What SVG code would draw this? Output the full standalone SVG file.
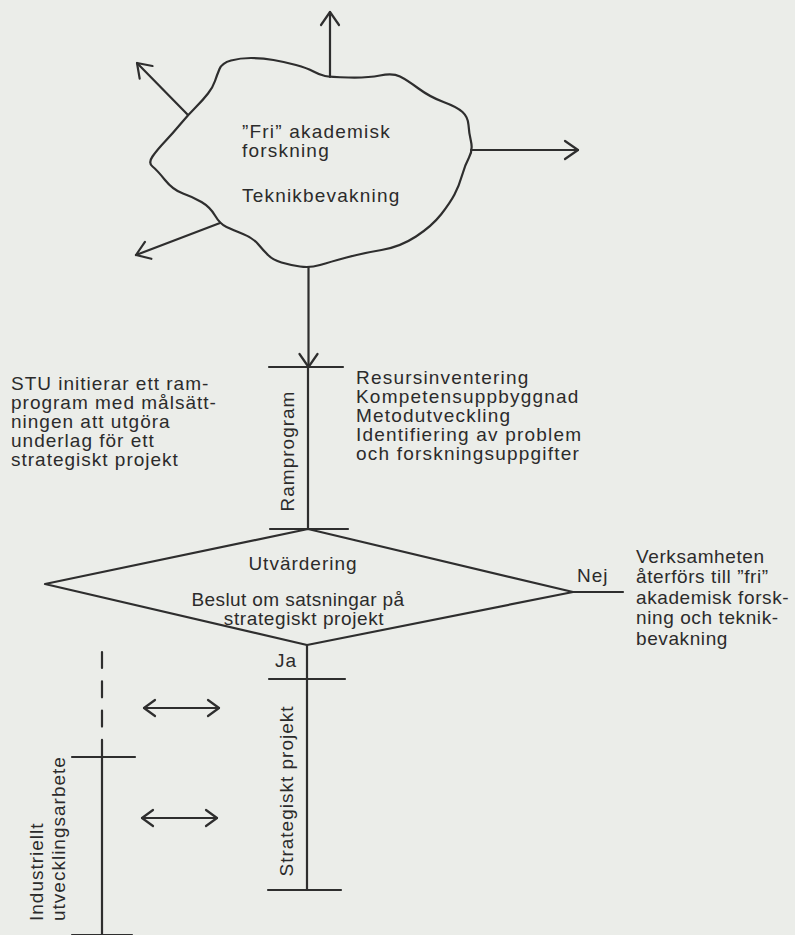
<svg xmlns="http://www.w3.org/2000/svg" width="795" height="935" viewBox="0 0 795 935">
  <defs>
    <style>
      .ln{fill:none;stroke:#2e2e2e;stroke-width:2.2;stroke-linecap:round;stroke-linejoin:round}
      .t{font-family:"Liberation Sans",Arial,Helvetica,sans-serif;font-size:19px;fill:#2b2b2b;letter-spacing:1px}
      .c{text-anchor:middle}
      .wide{letter-spacing:1.2px}
      .snug{letter-spacing:0.6px}
    </style>
    <marker id="arrow" viewBox="-16 -11 18 22" refX="0" refY="0" markerWidth="18" markerHeight="22" markerUnits="userSpaceOnUse" orient="auto">
      <path d="M-13,-9 L0,0 L-13,9" fill="none" stroke="#2e2e2e" stroke-width="2.2" stroke-linecap="round" stroke-linejoin="round"/>
    </marker>
    <marker id="arrow-both" viewBox="-14 -10 16 20" refX="0" refY="0" markerWidth="16" markerHeight="20" markerUnits="userSpaceOnUse" orient="auto-start-reverse">
      <path d="M-11,-8 L0,0 L-11,8" fill="none" stroke="#2e2e2e" stroke-width="2.2" stroke-linecap="round" stroke-linejoin="round"/>
    </marker>
  </defs>

  <!-- paper -->
  <rect x="0" y="0" width="795" height="935" fill="#ebede9"/>

  <!-- free academic research: cloud -->
  <g id="cloud">
    <path class="ln" d="M325,76 Q330,77 348.5,77.5 Q367,78 380,75.5 Q393,73 400,76.5 Q407,80 418.5,88.5 Q430,97 443.5,102 Q457,107 462.5,112 Q468,117 468.5,125 Q469,133 471,141.5 Q473,150 469,157.5 Q465,165 462,175.5 Q459,186 454.5,194.5 Q450,203 441,214.5 Q432,226 416,236.5 Q400,247 381.5,250 Q363,253 346.5,257.5 Q330,262 320,265 Q310,268 300,266.5 Q290,265 281.5,262.5 Q273,260 268,255 Q263,250 258,244 Q253,238 243,234 Q233,230 226.5,227 Q220,224 215,215.5 Q210,207 201.5,202 Q193,197 183,193.5 Q173,190 165,180 Q157,170 152.5,166.5 Q148,163 152.5,156.5 Q157,150 165,141.5 Q173,133 180.5,124 Q188,115 195.5,107.5 Q203,100 208,93.5 Q213,87 215,81 Q217,75 219.5,69 Q222,63 231,60.5 Q240,58 251,58 Q262,58 273.5,60 Q285,62 296,65 Q307,68 313.5,71.5 Q320,75 325,76 Z"/>
    <text class="t wide" x="242" y="138">”Fri” akademisk</text>
    <text class="t wide" x="242" y="157">forskning</text>
    <text class="t wide" x="242" y="202">Teknikbevakning</text>
  </g>

  <!-- STU initiative note -->
  <g id="stu-note">
    <text class="t" x="11" y="390">STU initierar ett ram-</text>
    <text class="t" x="11" y="409">program med målsätt-</text>
    <text class="t" x="11" y="428">ningen att utgöra</text>
    <text class="t" x="11" y="447">underlag för ett</text>
    <text class="t" x="11" y="466">strategiskt projekt</text>
  </g>

  <!-- framework programme phase -->
  <g id="ramprogram">
    <line class="ln" x1="269" y1="367" x2="343" y2="367"/>
    <line class="ln" x1="270" y1="529" x2="348" y2="529"/>
    <text class="t c" transform="translate(294,451) rotate(-90)">Ramprogram</text>
  </g>

  <!-- framework programme activities -->
  <g id="ramprogram-tasks">
    <text class="t wide" x="356" y="384">Resursinventering</text>
    <text class="t wide" x="356" y="403">Kompetensuppbyggnad</text>
    <text class="t wide" x="356" y="422">Metodutveckling</text>
    <text class="t wide" x="356" y="441">Identifiering av problem</text>
    <text class="t wide" x="356" y="460">och forskningsuppgifter</text>
  </g>

  <!-- evaluation / decision -->
  <g id="decision">
    <polygon class="ln" points="308,529 573,592 307,645 45,584"/>
    <text class="t c" x="303" y="570">Utvärdering</text>
    <text class="t c" x="298" y="606" style="letter-spacing:0.4px">Beslut om satsningar på</text>
    <text class="t c snug" x="304" y="625">strategiskt projekt</text>
  </g>

  <!-- outcome when rejected -->
  <g id="outcome-no">
    <text class="t snug" x="636" y="563">Verksamheten</text>
    <text class="t snug" x="636" y="583">återförs till ”fri”</text>
    <text class="t snug" x="636" y="604">akademisk forsk-</text>
    <text class="t snug" x="636" y="624">ning och teknik-</text>
    <text class="t snug" x="636" y="645">bevakning</text>
  </g>

  <!-- strategic project phase -->
  <g id="strategiskt-projekt">
    <line class="ln" x1="269" y1="679" x2="345" y2="679"/>
    <line class="ln" x1="268" y1="890" x2="341" y2="890"/>
    <text class="t c" transform="translate(293,791) rotate(-90)">Strategiskt projekt</text>
  </g>

  <!-- industrial development work -->
  <g id="industriellt">
    <line class="ln" x1="72" y1="757" x2="135" y2="757"/>
    <line class="ln" x1="72" y1="935" x2="132" y2="935"/>
    <text class="t" transform="translate(43,921) rotate(-90)">Industriellt</text>
    <text class="t" transform="translate(65,921) rotate(-90)">utvecklingsarbete</text>
  </g>

  <!-- connectors -->
  <g id="connectors">
    <line class="ln" x1="330" y1="77" x2="330" y2="12" marker-end="url(#arrow)"/>
    <line class="ln" x1="188" y1="115" x2="137" y2="63" marker-end="url(#arrow)"/>
    <line class="ln" x1="220" y1="223" x2="136" y2="255" marker-end="url(#arrow)"/>
    <line class="ln" x1="471" y1="150" x2="578" y2="150" marker-end="url(#arrow)"/>
    <line class="ln" x1="308.5" y1="267" x2="308.5" y2="367" marker-end="url(#arrow)"/>
    <line class="ln" x1="308" y1="367" x2="308" y2="529"/>
    <line class="ln" x1="573" y1="592" x2="623" y2="592"/>
    <text class="t" x="577" y="582">Nej</text>
    <line class="ln" x1="307" y1="645" x2="307" y2="890"/>
    <text class="t" x="275" y="667">Ja</text>
    <line class="ln" x1="102" y1="652" x2="102" y2="757" stroke-dasharray="16 13.3" stroke-linecap="butt"/>
    <line class="ln" x1="102" y1="757" x2="102" y2="935"/>
    <line class="ln" x1="144" y1="708" x2="219" y2="708" marker-start="url(#arrow-both)" marker-end="url(#arrow-both)"/>
    <line class="ln" x1="142" y1="818" x2="217" y2="818" marker-start="url(#arrow-both)" marker-end="url(#arrow-both)"/>
  </g>
</svg>
